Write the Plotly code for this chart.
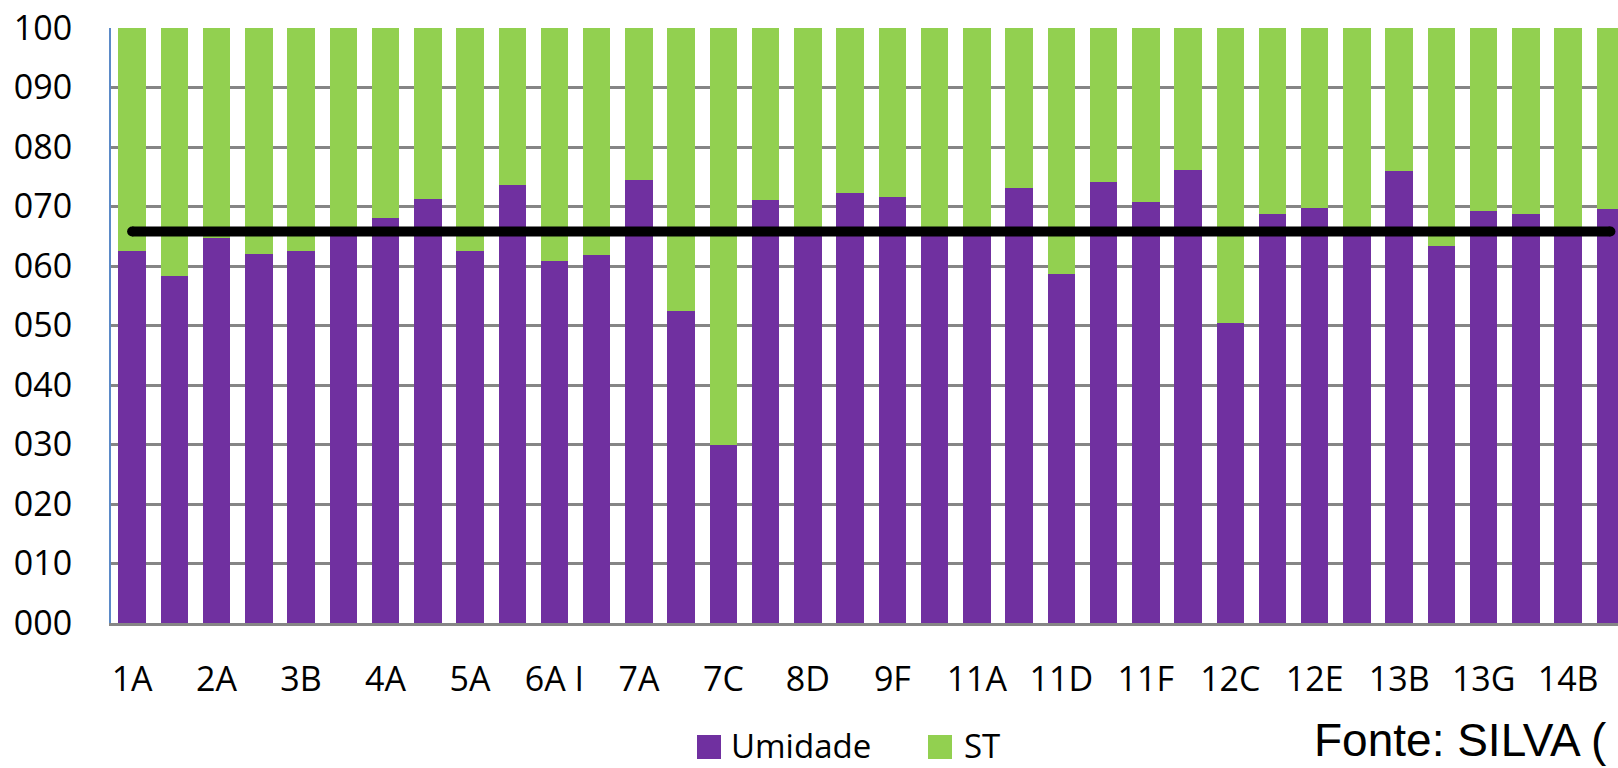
import plotly.graph_objects as go

# Amostras (posição 1..36); rótulos exibidos em posições alternadas
posicoes = list(range(1, 37))
rotulos_pos = [1, 3, 5, 7, 9, 11, 13, 15, 17, 19, 21, 23, 25, 27, 29, 31, 33, 35]
rotulos = ["1A", "2A", "3B", "4A", "5A", "6A I", "7A", "7C", "8D",
           "9F", "11A", "11D", "11F", "12C", "12E", "13B", "13G", "14B"]

umidade = [62.6, 58.4, 64.7, 62.1, 62.6, 65.9, 68.1, 71.2, 62.6, 73.6,
           60.9, 61.8, 74.5, 52.4, 30.0, 71.1, 66.1, 72.2, 71.6, 65.7,
           66.2, 73.1, 58.6, 74.2, 70.7, 76.2, 50.4, 68.7, 69.8, 65.9,
           75.9, 63.3, 69.3, 68.7, 66.0, 69.5]
st = [37.4, 41.6, 35.3, 37.9, 37.4, 34.1, 31.9, 28.8, 37.4, 26.4,
      39.1, 38.2, 25.5, 47.6, 70.0, 28.9, 33.9, 27.8, 28.4, 34.3,
      33.8, 26.9, 41.4, 25.8, 29.3, 23.8, 49.6, 31.3, 30.2, 34.1,
      24.1, 36.7, 30.7, 31.3, 34.0, 30.5]

media_umidade = 65.8
y_ticks = [0, 10, 20, 30, 40, 50, 60, 70, 80, 90, 100]

ROXO = "#7030A0"
VERDE = "#92D050"
FONTE = "Open Sans"

W, H = 1618, 768
ML, MR, MT, MB = 111, 0, 28, 145


def px_x(px):
    return (px - ML) / (W - ML - MR)


def px_y(py):
    return (H - MB - py) / (H - MT - MB)


fig = go.Figure()
fig.add_trace(go.Bar(x=posicoes, y=umidade, name="Umidade",
                     marker=dict(color=ROXO, line=dict(width=0)),
                     showlegend=False))
fig.add_trace(go.Bar(x=posicoes, y=st, name="ST",
                     marker=dict(color=VERDE, line=dict(width=0)),
                     showlegend=False))
fig.add_trace(go.Scatter(x=[posicoes[0], posicoes[-1]],
                         y=[media_umidade, media_umidade],
                         mode="lines+markers",
                         line=dict(color="black", width=10),
                         marker=dict(color="black", size=10),
                         showlegend=False, hoverinfo="skip"))

fig.update_layout(
    width=W, height=H,
    margin=dict(l=ML, r=MR, t=MT, b=MB, pad=0),
    barmode="stack", bargap=0.35,
    plot_bgcolor="white", paper_bgcolor="white",
    font=dict(family=FONTE, size=34, color="black"),
    showlegend=False,
)
fig.update_xaxes(
    range=[0.5, 36.18],
    tickmode="array", tickvals=rotulos_pos, ticktext=rotulos,
    ticks="", showgrid=False, zeroline=False,
    showline=True, linecolor="#868686", linewidth=3,
    tickfont=dict(family=FONTE, size=34, color="black"),
    ticklabelstandoff=24,
)
fig.update_yaxes(
    range=[0, 100],
    tickmode="array", tickvals=y_ticks, tickformat="03d",
    ticks="", showgrid=True, gridcolor="#858585", gridwidth=2.5,
    zeroline=False,
    showline=True, linecolor="#5b8ac8", linewidth=2,
    tickfont=dict(family=FONTE, size=34, color="black"),
    ticklabelstandoff=30,
)

# Legenda desenhada com quadrados maiores
leg = [(697, 721, ROXO, 729, "Umidade"), (928, 952, VERDE, 962, "ST")]
for x0, x1, cor, xt, txt in leg:
    fig.add_shape(type="rect", xref="paper", yref="paper",
                  x0=px_x(x0), x1=px_x(x1), y0=px_y(759), y1=px_y(735),
                  fillcolor=cor, line=dict(width=0))
    fig.add_annotation(xref="paper", yref="paper", x=px_x(xt), y=px_y(745),
                       xanchor="left", yanchor="middle", showarrow=False,
                       text=txt, font=dict(family=FONTE, size=33, color="black"))

fig.add_annotation(xref="paper", yref="paper", x=px_x(1312), y=px_y(740),
                   xanchor="left", yanchor="middle", showarrow=False,
                   text="Fonte: SILVA (",
                   font=dict(family="Liberation Sans", size=46, color="black"))

fig.write_html("out.html")
